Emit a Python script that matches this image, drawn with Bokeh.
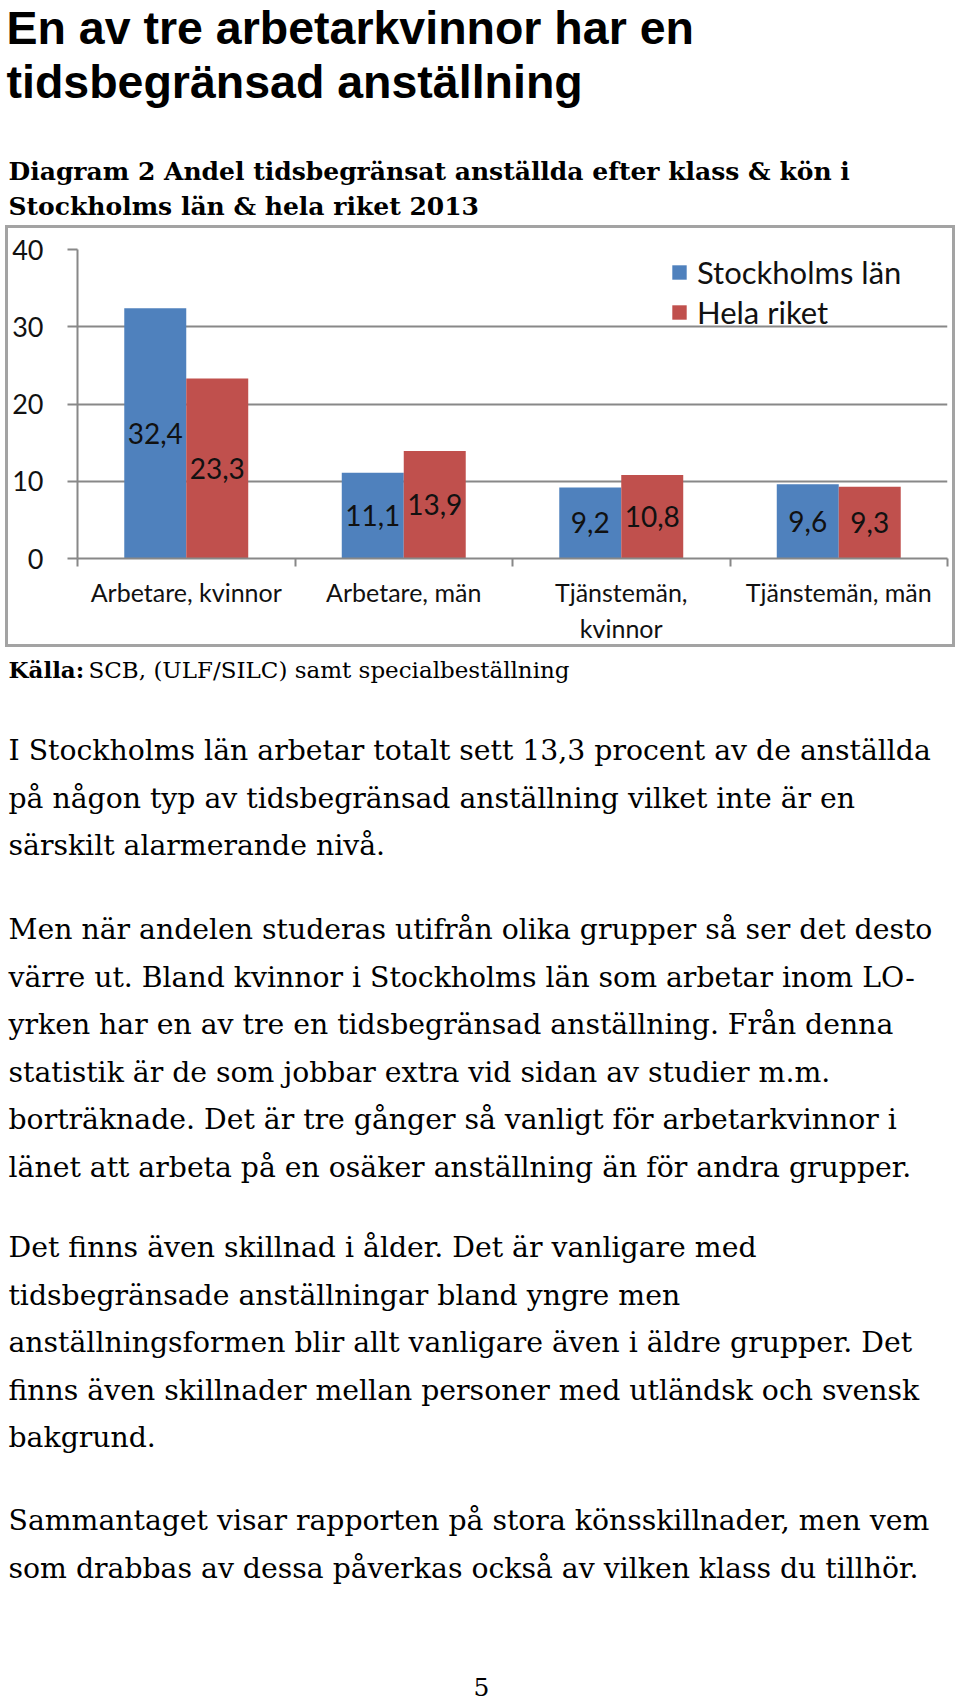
from bokeh.plotting import figure
from bokeh.layouts import column
from bokeh.models import (Range1d, FixedTicker, LinearAxis, Grid, ColumnDataSource, LabelSet)
from bokeh.core.properties import value
from bokeh.embed import file_html
from bokeh.resources import INLINE

# ---------------- data ----------------
categories = ["Arbetare, kvinnor", "Arbetare, män", "Tjänstemän,\nkvinnor", "Tjänstemän, män"]
stockholm = [32.4, 11.1, 9.2, 9.6]
riket = [23.3, 13.9, 10.8, 9.3]
series_names = ["Stockholms län", "Hela riket"]
y_ticks = [0, 10, 20, 30, 40]

title_lines = ["En av tre arbetarkvinnor har en", "tidsbegränsad anställning"]
subtitle_lines = ["Diagram 2 Andel tidsbegränsat anställda efter klass & kön i",
                  "Stockholms län & hela riket 2013"]
source_bold = "Källa:"
source_text = "SCB, (ULF/SILC) samt specialbeställning"
paragraphs = [
    ["I Stockholms län arbetar totalt sett 13,3 procent av de anställda",
     "på någon typ av tidsbegränsad anställning vilket inte är en",
     "särskilt alarmerande nivå."],
    ["Men när andelen studeras utifrån olika grupper så ser det desto",
     "värre ut. Bland kvinnor i Stockholms län som arbetar inom LO-",
     "yrken har en av tre en tidsbegränsad anställning. Från denna",
     "statistik är de som jobbar extra vid sidan av studier m.m.",
     "borträknade.  Det är tre gånger så vanligt för arbetarkvinnor i",
     "länet att arbeta på en osäker anställning än för andra  grupper."],
    ["Det finns även skillnad i ålder. Det är vanligare med",
     "tidsbegränsade anställningar bland yngre men",
     "anställningsformen blir allt vanligare även i äldre grupper. Det",
     "finns även skillnader mellan personer med utländsk och svensk",
     "bakgrund."],
    ["Sammantaget visar rapporten på stora könsskillnader, men vem",
     "som drabbas av dessa påverkas också av vilken klass du tillhör."],
]
page_number = "5"

# ---------------- styles / layout ----------------
W = 960
HEAD_H, CHART_H, TOTAL_H = 220, 432, 1704
TAIL_TOP = HEAD_H + CHART_H
BLUE = "#4F81BD"
RED = "#C0504D"
GREY = "#888888"
BOX_GREY = "#a3a3a3"
TXT = "#111111"
CHART_FONT = "Lato"
SERIF = "DejaVu Serif"
BW = 0.285


def text_fig(h, top):
    f = figure(width=W, height=h, x_range=Range1d(0, W), y_range=Range1d(top + h, top),
               title=None, output_backend="svg", toolbar_location=None,
               x_axis_type=None, y_axis_type=None,
               min_border=0, min_border_left=0, min_border_right=0,
               min_border_top=0, min_border_bottom=0, frame_align=False,
               background_fill_color="white", border_fill_color="white", outline_line_color=None)
    return f


def put(f, lines, xs, ys, font, size, style="normal", align="left"):
    f.text(x=xs, y=ys, text=lines, text_font=value(font), text_font_size=value(size),
           text_font_style=style, text_align=align, text_baseline="alphabetic",
           text_color="black")


# ---- header ----
head = text_fig(HEAD_H, 0)
put(head, title_lines, [6, 6], [27, 81], "Liberation Sans", "46.5px", "bold")
put(head, subtitle_lines, [8, 8], [171, 206], SERIF, "25px", "bold")

# ---- chart ----
p = figure(width=W, height=CHART_H, x_range=Range1d(0, len(categories)), y_range=Range1d(0, 40),
           title=None, output_backend="svg", toolbar_location=None,
           x_axis_type=None, y_axis_type=None, frame_align=False,
           min_border_left=77, min_border_right=13, min_border_top=29, min_border_bottom=94,
           background_fill_color="white", border_fill_alpha=0, outline_line_color=None,
           styles={"box-shadow": f"inset 0 0 0 5px white, inset 0 0 0 8px {BOX_GREY}"})

yaxis = LinearAxis(ticker=FixedTicker(ticks=y_ticks),
                   axis_line_color=GREY, axis_line_width=2,
                   major_tick_out=10, major_tick_in=0, major_tick_line_color=GREY, major_tick_line_width=2,
                   minor_tick_line_color=None,
                   major_label_text_font=CHART_FONT, major_label_text_font_size="27px",
                   major_label_text_color=TXT, major_label_standoff=24)
p.add_layout(yaxis, "left")

centers = [i + 0.5 for i in range(len(categories))]
bounds = [float(i) for i in range(len(categories) + 1)]
xaxis = LinearAxis(ticker=FixedTicker(ticks=centers, minor_ticks=bounds),
                   major_label_overrides={c: cat for c, cat in zip(centers, categories)},
                   axis_line_color=GREY, axis_line_width=2,
                   major_tick_out=0, major_tick_in=0, major_tick_line_color=None,
                   minor_tick_out=8, minor_tick_in=0, minor_tick_line_color=GREY, minor_tick_line_width=2,
                   major_label_text_font=CHART_FONT, major_label_text_font_size="25px",
                   major_label_text_color=TXT, major_label_standoff=10)
p.add_layout(xaxis, "below")

p.add_layout(Grid(dimension=1, ticker=yaxis.ticker, grid_line_color=GREY, grid_line_width=2))

xb = [c - BW / 2 for c in centers]
xr = [c + BW / 2 for c in centers]
p.vbar(x=xb, top=stockholm, bottom=0, width=BW, fill_color=BLUE, line_color=None,
       legend_label=series_names[0])
p.vbar(x=xr, top=riket, bottom=0, width=BW, fill_color=RED, line_color=None,
       legend_label=series_names[1])

vals = stockholm + riket
lab_src = ColumnDataSource(dict(
    x=xb + xr,
    y=[v / 2 for v in vals],
    t=[f"{v:.1f}".replace(".", ",") for v in vals],
))
p.add_layout(LabelSet(x="x", y="y", text="t", source=lab_src,
                      text_align="center", text_baseline="middle",
                      text_font=value(CHART_FONT), text_font_size="28px", text_color=TXT))

lg = p.legend[0]
lg.location = (593, 227)
lg.orientation = "vertical"
lg.padding = 0
lg.margin = 0
lg.spacing = 2
lg.glyph_width = 18
lg.glyph_height = 18
lg.label_height = 38
lg.label_standoff = 9
lg.label_text_font = CHART_FONT
lg.label_text_font_size = "31px"
lg.label_text_color = TXT
lg.border_line_color = None
lg.background_fill_alpha = 0

# ---- tail (source + body text) ----
tail = text_fig(TOTAL_H - TAIL_TOP, TAIL_TOP)
put(tail, [source_bold], [8], [669], SERIF, "23px", "bold")
put(tail, [source_text], [88], [669], SERIF, "23px")
para_starts = [750, 929, 1247, 1520]
pitch = 47.6
lines, ys = [], []
for para, start in zip(paragraphs, para_starts):
    for k, line in enumerate(para):
        lines.append(line)
        ys.append(start + k * pitch)
put(tail, lines, [8] * len(lines), ys, SERIF, "28.3px")
put(tail, [page_number], [481], [1686], SERIF, "25px", align="center")

layout = column(head, p, tail, spacing=0)
open("out.html", "w").write(file_html(layout, INLINE))
